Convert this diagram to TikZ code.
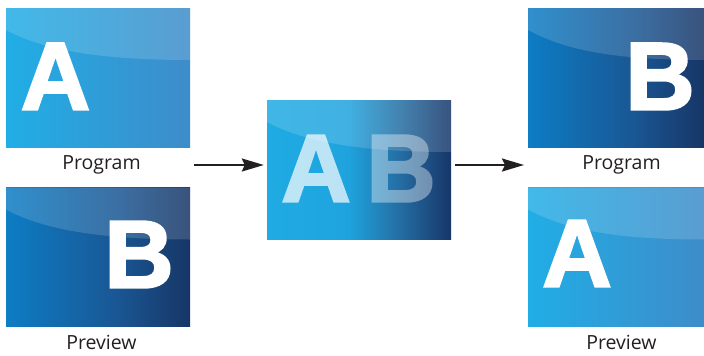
\documentclass[tikz,border=0pt]{standalone}
\usepackage{fontspec}
\setmainfont{Open Sans}
\newfontfamily\letterfont[BoldFeatures={FakeBold=2.5}]{Liberation Sans}
\usetikzlibrary{arrows.meta,calc}
\definecolor{txt}{RGB}{35,31,32}
\pgfdeclarehorizontalshading{lightshade}{100bp}{rgb(0bp)=(0.13,0.68,0.90); rgb(25bp)=(0.13,0.68,0.90); rgb(75bp)=(0.24,0.55,0.79); rgb(100bp)=(0.24,0.55,0.79)}
\pgfdeclarehorizontalshading{darkshade}{100bp}{rgb(0bp)=(0.05,0.49,0.77); rgb(25bp)=(0.05,0.49,0.77); rgb(55bp)=(0.10,0.34,0.58); rgb(75bp)=(0.09,0.21,0.40); rgb(100bp)=(0.09,0.21,0.40)}
\pgfdeclarehorizontalshading{midshade}{100bp}{rgb(0bp)=(0.12,0.67,0.89); rgb(25bp)=(0.12,0.67,0.89); rgb(47bp)=(0.12,0.64,0.87); rgb(61bp)=(0.14,0.43,0.64); rgb(75bp)=(0.09,0.21,0.41); rgb(100bp)=(0.09,0.21,0.41)}
\tikzset{
  screen/.style={rectangle, inner sep=0pt, minimum height=139pt, minimum width=184pt,
    path picture={\fill[white,opacity=.15] (path picture bounding box.north west) -- ++(0,22)
      .. controls +(37,20) and +(-90,0) .. ($(path picture bounding box.north east)+(0,52)$)
      -- (path picture bounding box.north east) -- cycle;}},
  lightbox/.style={screen, shade, shading=lightshade},
  darkbox/.style={screen, shade, shading=darkshade},
  midbox/.style={screen, shade, shading=midshade},
  letter/.style={anchor=base, inner sep=0pt, text=white, font=\letterfont\bfseries\fontsize{96}{96}\selectfont},
  label/.style={anchor=base, inner sep=0pt, text=txt, font=\fontsize{19.5}{21}\selectfont},
  arr/.style={draw=txt, line width=2pt, -{Stealth[length=22pt,width=13pt,inset=3pt]}}
}
\begin{document}
\begin{tikzpicture}[x=1pt,y=-1pt]
\useasboundingbox (0,0) rectangle (704,356);
% left column
\node[lightbox] (pgmA) at (98,77.5) {};
\node[letter] (la) at (55.5,109.5) {A};
\node[label] (lpgm) at (101.5,169) {Program};
\node[darkbox] (prvB) at (98,257) {};
\node[letter] (lb) at (139,287.5) {B};
\node[label] (lprv) at (101.5,349) {Preview};
% centre
\node[midbox] (mix) at (359,169.5) {};
\begin{scope}[transparency group, opacity=.7]
\node[letter] (ma) at (316,201.5) {A};
\end{scope}
\begin{scope}[transparency group, opacity=.38]
\node[letter] (mb) at (401,201.5) {B};
\end{scope}
% right column
\node[darkbox, minimum width=176pt] (pgmB) at (616,77.5) {};
\node[letter] (rb) at (660,109.5) {B};
\node[label] (rpgm) at (621.5,169) {Program};
\node[lightbox, minimum width=176pt] (prvA) at (616,257) {};
\node[letter] (ra) at (577,286.5) {A};
\node[label] (rprv) at (621.5,349) {Preview};
% arrows
\coordinate (s1) at (194,165);
\coordinate (e2) at (524,165);
\draw[arr, shorten >=3pt] (s1) -- (mix.west |- s1);
\draw[arr, shorten <=4pt] (mix.east |- s1) -- (e2);
\end{tikzpicture}
\end{document}
